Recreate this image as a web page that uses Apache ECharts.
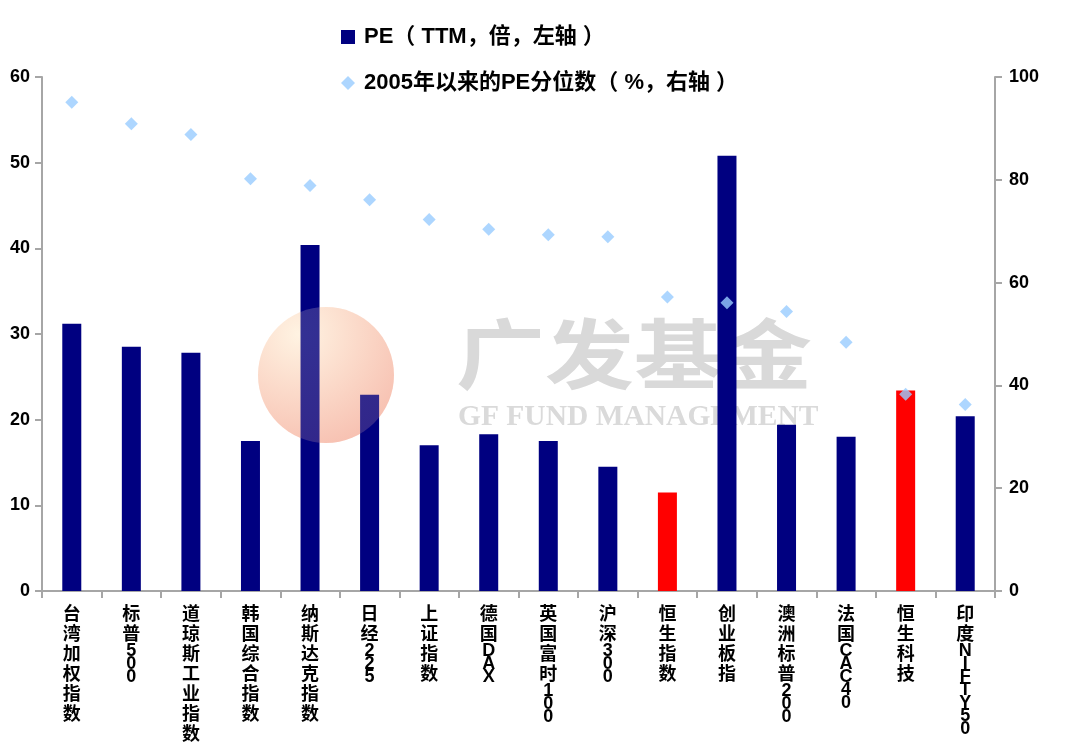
<!DOCTYPE html>
<html>
<head>
<meta charset="utf-8">
<script src="https://cdn.jsdelivr.net/npm/echarts@6/dist/echarts.min.js"></script>
<style>html,body{margin:0;padding:0;background:#fff}#c{width:1080px;height:752px}</style>
</head>
<body>
<div id="c"></div>
<script>
var categories = ['台湾加权指数','标普500','道琼斯工业指数','韩国综合指数','纳斯达克指数','日经225','上证指数','德国DAX','英国富时100','沪深300','恒生指数','创业板指','澳洲标普200','法国CAC40','恒生科技','印度NIFTY50'];
var peValues = [31.2, 28.5, 27.8, 17.5, 40.4, 22.9, 17.0, 18.3, 17.5, 14.5, 11.5, 50.8, 19.4, 18.0, 23.4, 20.4];
var percentileValues = [95.1, 90.9, 88.8, 80.2, 78.9, 76.1, 72.3, 70.4, 69.3, 68.9, 57.2, 56.1, 54.4, 48.4, 38.3, 36.3];
var highlighted = ['恒生指数','恒生科技'];
var leftTicks = {min: 0, max: 60, interval: 10};
var rightTicks = {min: 0, max: 100, interval: 20};
var seriesNames = ['PE（ TTM，倍，左轴 ）', '2005年以来的PE分位数（ %，右轴 ）'];

var FONT = '"Liberation Sans", Arial, "Noto Sans CJK SC", sans-serif';
var chart = echarts.init(document.getElementById('c'));

function stackLabel(v) {
  return v.split('').map(function (ch) {
    return /[\u4e00-\u9fff]/.test(ch) ? '{c|' + ch + '}' : '{l|' + ch + '}';
  }).join('\n');
}

var barData = peValues.map(function (v, i) {
  return {
    value: v,
    itemStyle: {color: highlighted.indexOf(categories[i]) >= 0 ? '#FF0000' : '#000080'}
  };
});

function logoFill() {
  return new echarts.graphic.RadialGradient(0.3, 0.2, 1, [
    {offset: 0, color: '#fff3e2'},
    {offset: 0.55, color: '#fad3c3'},
    {offset: 1, color: '#f6b9aa'}
  ]);
}

chart.setOption({
  animation: false,
  backgroundColor: '#ffffff',
  textStyle: {fontFamily: FONT},
  legend: {
    orient: 'vertical',
    left: 336,
    top: 20,
    itemGap: 22,
    itemWidth: 14,
    itemHeight: 14,
    textStyle: {fontSize: 22, fontWeight: 'bold', color: '#000', fontFamily: FONT, lineHeight: 24, padding: [0, 0, 0, 4]},
    data: [
      {name: seriesNames[0], icon: 'rect', itemStyle: {color: '#000080'}},
      {name: seriesNames[1], icon: 'diamond'}
    ]
  },
  grid: {left: 42, right: 85, top: 77, bottom: 161, containLabel: false},
  xAxis: {
    type: 'category',
    data: categories,
    boundaryGap: true,
    axisLine: {lineStyle: {color: '#a6a6a6', width: 2}},
    axisTick: {show: true, length: 7, lineStyle: {color: '#a6a6a6', width: 2}},
    axisLabel: {
      interval: 0,
      margin: 14,
      formatter: stackLabel,
      rich: {
        c: {fontSize: 18, fontWeight: 'bold', color: '#000', lineHeight: 20, fontFamily: FONT},
        l: {fontSize: 18, fontWeight: 'bold', color: '#000', lineHeight: 13, fontFamily: FONT}
      }
    }
  },
  yAxis: [
    {
      type: 'value',
      min: leftTicks.min, max: leftTicks.max, interval: leftTicks.interval,
      splitLine: {show: false},
      axisLine: {show: true, lineStyle: {color: '#a6a6a6', width: 2}},
      axisTick: {show: true, length: 7, lineStyle: {color: '#a6a6a6', width: 2}},
      axisLabel: {margin: 12, fontSize: 18, fontWeight: 'bold', color: '#000', fontFamily: FONT}
    },
    {
      type: 'value',
      position: 'right',
      min: rightTicks.min, max: rightTicks.max, interval: rightTicks.interval,
      splitLine: {show: false},
      axisLine: {show: true, lineStyle: {color: '#a6a6a6', width: 2}},
      axisTick: {show: true, length: 7, lineStyle: {color: '#a6a6a6', width: 2}},
      axisLabel: {margin: 14, fontSize: 18, fontWeight: 'bold', color: '#000', fontFamily: FONT}
    }
  ],
  graphic: [
    {
      type: 'circle', z: 0, silent: true,
      shape: {cx: 326, cy: 375, r: 68},
      style: {fill: logoFill()}
    },
    {
      type: 'text', left: 456, top: 316, z: 0, silent: true, scaleY: 0.86,
      style: {text: '广发基金', fontSize: 89, fontWeight: 'bold', fill: '#d9d9d9', fontFamily: '"Noto Sans CJK SC", sans-serif'}
    },
    {
      type: 'text', left: 458, top: 402, z: 0, silent: true,
      style: {text: 'GF FUND MANAGEMENT', fontSize: 29.5, fontWeight: 'bold', fill: '#dadada', fontFamily: '"Liberation Serif", "DejaVu Serif", serif'}
    },
    {
      type: 'circle', z: 100, silent: true,
      shape: {cx: 326, cy: 375, r: 68},
      style: {opacity: 0.2, fill: logoFill()}
    }
  ],
  series: [
    {
      name: seriesNames[0],
      type: 'bar',
      yAxisIndex: 0,
      barWidth: 19,
      itemStyle: {color: '#000080'},
      data: barData,
      z: 2
    },
    {
      name: seriesNames[1],
      type: 'scatter',
      yAxisIndex: 1,
      symbol: 'diamond',
      symbolSize: 13,
      itemStyle: {color: '#99CCFF'},
      data: percentileValues,
      z: 3
    }
  ]
});
</script>
</body>
</html>
